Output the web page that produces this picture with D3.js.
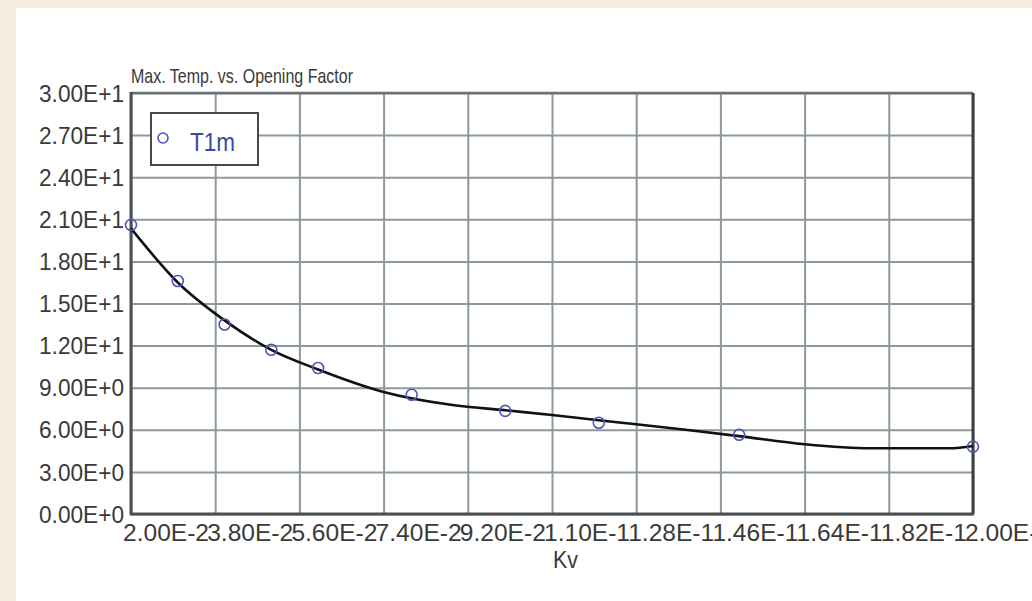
<!DOCTYPE html>
<html>
<head>
<meta charset="utf-8">
<script src="https://cdn.jsdelivr.net/npm/d3@7"></script>
<style>
  html, body { margin: 0; padding: 0; background: #f4ecdc; }
  svg { display: block; }
  text { font-family: "Liberation Sans", Arial, sans-serif; }
</style>
</head>
<body>
<svg id="chart" width="1032" height="601"></svg>
<script>
// Opening factor Kv and measured maximum temperature T1m
const kv = [0.02, 0.03, 0.04, 0.05, 0.06, 0.08, 0.10, 0.12, 0.15, 0.20];
const t1m = [20.6, 16.6, 13.5, 11.7, 10.4, 8.5, 7.35, 6.5, 5.65, 4.8];

// Fitted trend curve, sampled along Kv
const fitKv = [0.02, 0.03, 0.04, 0.05, 0.06, 0.074, 0.088, 0.10, 0.11, 0.12, 0.128, 0.139, 0.15, 0.164, 0.178, 0.195, 0.20];
const fitT = [20.35, 16.5, 13.8, 11.7, 10.3, 8.7, 7.8, 7.39, 7.06, 6.68, 6.39, 5.98, 5.55, 4.97, 4.68, 4.68, 4.85];

// Axis ticks
const xTicks = [0.02, 0.038, 0.056, 0.074, 0.092, 0.11, 0.128, 0.146, 0.164, 0.182, 0.20];
const yTicks = [0, 3, 6, 9, 12, 15, 18, 21, 24, 27, 30];

const titleText = "Max. Temp. vs. Opening Factor";
const xTitle = "Kv";
const seriesName = "T1m";

const svg = d3.select("#chart");
const W = 1032, H = 601;
const plot = { left: 131, top: 93, right: 973, bottom: 514 };

// white panel on beige page
svg.append("rect").attr("x", 16).attr("y", 8).attr("width", W - 16).attr("height", H - 8).attr("fill", "#ffffff");

const x = d3.scaleLinear().domain([0.02, 0.20]).range([plot.left, plot.right]);
const y = d3.scaleLinear().domain([0, 30]).range([plot.bottom, plot.top]);

const fmtE = v => d3.format(".2e")(v).toUpperCase();

const gridColor = "#8e999d";
const textColor = "#3a3a3a";

// vertical grid lines
svg.append("g")
  .attr("transform", `translate(0,${plot.bottom})`)
  .call(d3.axisBottom(x).tickValues(xTicks).tickSize(-(plot.bottom - plot.top)).tickFormat(""))
  .call(g => g.select(".domain").remove())
  .call(g => g.selectAll(".tick line").attr("stroke", gridColor).attr("stroke-width", 2));

// horizontal grid lines
svg.append("g")
  .attr("transform", `translate(${plot.left},0)`)
  .call(d3.axisLeft(y).tickValues(yTicks).tickSize(-(plot.right - plot.left)).tickFormat(""))
  .call(g => g.select(".domain").remove())
  .call(g => g.selectAll(".tick line").attr("stroke", gridColor).attr("stroke-width", 2));

// plot frame
svg.append("line").attr("x1", plot.left).attr("x2", plot.right).attr("y1", plot.top).attr("y2", plot.top)
  .attr("stroke", "#6b7174").attr("stroke-width", 2.5);
svg.append("line").attr("x1", plot.right).attr("x2", plot.right).attr("y1", plot.top).attr("y2", plot.bottom)
  .attr("stroke", "#3c4043").attr("stroke-width", 3);
svg.append("line").attr("x1", plot.left).attr("x2", plot.left).attr("y1", plot.top - 1).attr("y2", plot.bottom + 1)
  .attr("stroke", "#4a4f52").attr("stroke-width", 3);
svg.append("line").attr("x1", plot.left - 1).attr("x2", plot.right + 1).attr("y1", plot.bottom).attr("y2", plot.bottom)
  .attr("stroke", "#4a4f52").attr("stroke-width", 3);

// y tick labels
svg.append("g").selectAll("text").data(yTicks).join("text")
  .attr("x", 124).attr("y", d => y(d)).attr("dy", "0.36em")
  .attr("text-anchor", "end").attr("font-size", 24).attr("fill", textColor)
  .attr("textLength", 85).attr("lengthAdjust", "spacingAndGlyphs")
  .text(fmtE);

// x tick labels
svg.append("g").selectAll("text").data(xTicks).join("text")
  .attr("x", d => x(d) - 8).attr("y", 541)
  .attr("text-anchor", "start").attr("font-size", 24).attr("fill", textColor)
  .attr("textLength", 86).attr("lengthAdjust", "spacingAndGlyphs")
  .text(fmtE);

// axis title
svg.append("text").attr("x", 553).attr("y", 568)
  .attr("font-size", 23).attr("fill", textColor)
  .attr("textLength", 25).attr("lengthAdjust", "spacingAndGlyphs").text(xTitle);

// chart title
svg.append("text").attr("x", plot.left).attr("y", 83)
  .attr("font-size", 21).attr("fill", textColor)
  .attr("textLength", 222).attr("lengthAdjust", "spacingAndGlyphs").text(titleText);

// fitted curve
const line = d3.line().x((d, i) => x(fitKv[i])).y(d => y(d)).curve(d3.curveMonotoneX);
svg.append("path").attr("d", line(fitT))
  .attr("fill", "none").attr("stroke", "#111111").attr("stroke-width", 2.6);

// data markers
svg.append("g").selectAll("circle").data(t1m).join("circle")
  .attr("cx", (d, i) => x(kv[i])).attr("cy", d => y(d)).attr("r", 5.5)
  .attr("fill", "none").attr("stroke", "#4b55b8").attr("stroke-width", 1.6);

// legend
const lg = svg.append("g");
lg.append("rect").attr("x", 151).attr("y", 113).attr("width", 107).attr("height", 52)
  .attr("fill", "#ffffff").attr("stroke", "#45494c").attr("stroke-width", 2);
lg.append("circle").attr("cx", 163).attr("cy", 138).attr("r", 5)
  .attr("fill", "none").attr("stroke", "#4b55b8").attr("stroke-width", 1.6);
lg.append("text").attr("x", 190).attr("y", 151).attr("font-size", 25).attr("fill", "#3d47a8")
  .attr("textLength", 45).attr("lengthAdjust", "spacingAndGlyphs").text(seriesName);
</script>
</body>
</html>
